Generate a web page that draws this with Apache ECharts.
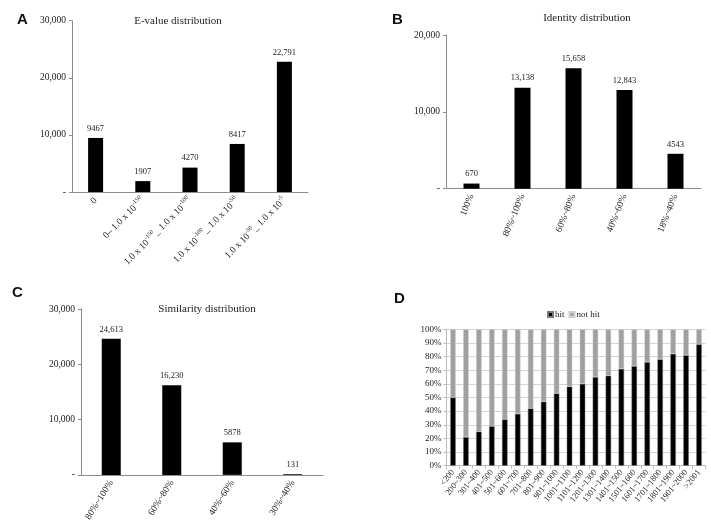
<!DOCTYPE html>
<html><head><meta charset="utf-8">
<script src="https://cdn.jsdelivr.net/npm/echarts@6/dist/echarts.min.js"></script>
<style>html,body{margin:0;padding:0;background:#fff}#c{width:711px;height:524px}</style>
</head><body><div id="c"></div>
<script>
// Panel A
const evalueCats = ['0', '0– 1.0 x 10{s|-150}', '1.0 x 10{s|-150}_ 1.0 x 10{s|-100}', '1.0 x 10{s|-100}_ 1.0 x 10{s|-50}', '1.0 x 10{s|-50}_ 1.0 x 10{s|-5}'];
const evalueVals = [9467, 1907, 4270, 8417, 22791];
// Panel B
const identityCats = ['100%', '80%~100%', '60%~80%', '40%~60%', '18%~40%'];
const identityVals = [670, 13138, 15658, 12843, 4543];
// Panel C
const similarityCats = ['80%~100%', '60%~80%', '40%~60%', '30%~40%'];
const similarityVals = [24613, 16230, 5878, 131];
// Panel D
const lengthCats = ['<200','200~300','301~400','401~500','501~600','601~700','701~800','801~900','901~1000','1001~1100','1101~1200','1201~1300','1301~1400','1401~1500','1501~1600','1601~1700','1701~1800','1801~1900','1901~2000','>2001'];
const hitVals = [50,21,25,29,34,38,42,47,53,58,60,65,66,71,73,76,78,82,81,89];
const notHitVals = [50,79,75,71,66,62,58,53,47,42,40,35,34,29,27,24,22,18,19,11];

const serif = 'Liberation Serif';
const axisGray = '#8c8c8c';
const fmtNum = v => v === 0 ? '-' : v.toLocaleString('en-US');
const fmtLbl = v => v >= 10000 ? v.toLocaleString('en-US') : String(v);

function yAx(grid, max, interval, extra) {
  return Object.assign({
    type: 'value', gridIndex: grid, min: 0, max: max, interval: interval,
    axisLine: {show: true, lineStyle: {color: axisGray}},
    axisTick: {show: true, length: 3, lineStyle: {color: axisGray}},
    splitLine: {show: false},
    axisLabel: {formatter: fmtNum, fontFamily: serif, fontSize: 9.5, color: '#222', margin: 6}
  }, extra || {});
}
function xAx(grid, cats, rotate, extra) {
  return Object.assign({
    type: 'category', gridIndex: grid, data: cats,
    axisLine: {show: true, lineStyle: {color: axisGray}},
    axisTick: {show: false},
    axisLabel: {rotate: rotate, interval: 0, fontFamily: serif, fontSize: 9.5, color: '#222', margin: 6}
  }, extra || {});
}
function labelCfg() {
  return {show: true, position: 'top', formatter: p => fmtLbl(p.value), fontFamily: serif, fontSize: 8.5, color: '#222', distance: 5};
}

const chart = echarts.init(document.getElementById('c'), null, {renderer: 'canvas'});
chart.setOption({
  animation: false,
  backgroundColor: '#fff',
  title: [
    {text: 'A', left: 12, top: 7, textStyle: {fontFamily: 'Liberation Sans', fontWeight: 'bold', fontSize: 15, color: '#111'}},
    {text: 'B', left: 387, top: 7, textStyle: {fontFamily: 'Liberation Sans', fontWeight: 'bold', fontSize: 15, color: '#111'}},
    {text: 'C', left: 7, top: 280, textStyle: {fontFamily: 'Liberation Sans', fontWeight: 'bold', fontSize: 15, color: '#111'}},
    {text: 'D', left: 389, top: 286, textStyle: {fontFamily: 'Liberation Sans', fontWeight: 'bold', fontSize: 15, color: '#111'}},
    {text: 'E-value distribution', left: 173, top: 11, textAlign: 'center', textStyle: {fontFamily: serif, fontWeight: 'normal', fontSize: 11, color: '#222'}},
    {text: 'Identity distribution', left: 582, top: 8, textAlign: 'center', textStyle: {fontFamily: serif, fontWeight: 'normal', fontSize: 11, color: '#222'}},
    {text: 'Similarity distribution', left: 202, top: 299, textAlign: 'center', textStyle: {fontFamily: serif, fontWeight: 'normal', fontSize: 11, color: '#222'}}
  ],
  legend: {
    show: true, left: 542, top: 305, data: ['hit', 'not hit'],
    itemWidth: 5, itemHeight: 5, itemGap: 4, icon: 'rect',
    textStyle: {fontFamily: serif, fontSize: 9, color: '#222', padding: [0, 0, 0, -3]}
  },
  grid: [
    {left: 72, top: 20.7, width: 236, height: 171.3},
    {left: 446, top: 35, width: 255, height: 153.7},
    {left: 81, top: 309, width: 242, height: 168.7},
    {left: 446.5, top: 329.3, width: 259, height: 136.4}
  ],
  xAxis: [
    xAx(0, evalueCats, 45, {axisLabel: {rotate: 45, interval: 0, fontFamily: serif, fontSize: 9.5, color: '#222', margin: 7,
      rich: {s: {fontFamily: serif, fontSize: 6, color: '#222', verticalAlign: 'top', lineHeight: 13}}}}),
    xAx(1, identityCats, 68),
    xAx(2, similarityCats, 58),
    xAx(3, lengthCats, 52, {axisTick: {show: true, length: 3, lineStyle: {color: '#bbb'}},
      axisLine: {show: true, lineStyle: {color: '#bbb'}},
      axisLabel: {rotate: 52, interval: 0, fontFamily: serif, fontSize: 8.5, color: '#222', margin: 5}})
  ],
  yAxis: [
    yAx(0, 30000, 10000),
    yAx(1, 20000, 10000),
    yAx(2, 30000, 10000),
    yAx(3, 100, 10, {
      axisLine: {show: true, lineStyle: {color: '#bbb'}},
      axisTick: {show: true, length: 3, lineStyle: {color: '#bbb'}},
      splitLine: {show: true, lineStyle: {color: '#d4d4d4', width: 1}},
      axisLabel: {formatter: '{value}%', fontFamily: serif, fontSize: 9, color: '#222', margin: 5}
    })
  ],
  series: [
    {type: 'bar', xAxisIndex: 0, yAxisIndex: 0, data: evalueVals, barWidth: 15, itemStyle: {color: '#000'}, label: labelCfg()},
    {type: 'bar', xAxisIndex: 1, yAxisIndex: 1, data: identityVals, barWidth: 16, itemStyle: {color: '#000'}, label: labelCfg()},
    {type: 'bar', xAxisIndex: 2, yAxisIndex: 2, data: similarityVals, barWidth: 19, itemStyle: {color: '#000'}, label: labelCfg()},
    {name: 'hit', type: 'bar', stack: 'd', xAxisIndex: 3, yAxisIndex: 3, data: hitVals, barWidth: 5.5,
      itemStyle: {color: '#000', borderColor: '#777', borderWidth: 0.5}},
    {name: 'not hit', type: 'bar', stack: 'd', xAxisIndex: 3, yAxisIndex: 3, data: notHitVals, barWidth: 5.5,
      itemStyle: {color: '#a0a0a0', borderColor: '#cfcfcf', borderWidth: 0.5}}
  ]
});
</script>
</body></html>
